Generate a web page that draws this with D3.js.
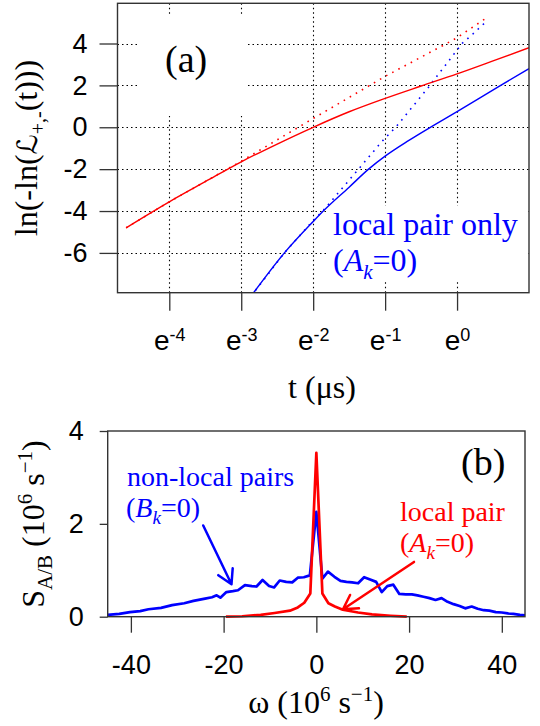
<!DOCTYPE html>
<html><head><meta charset="utf-8">
<script src="https://cdn.jsdelivr.net/npm/d3@7"></script>
<style>body{margin:0;background:#fff} svg{display:block}</style>
</head><body>
<script>
// ---------- Panel (a) data: x is ln(t), y is ln(-ln(L)) ----------
const aTickX = [-4, -3, -2, -1, 0];
const aTickY = [-6, -4, -2, 0, 2, 4];
const redSolidLnT = [-4.60, -4.0, -3.5, -3.0, -2.5, -2.0, -1.5, -1.0, -0.5, 0.0, 0.5, 1.0];
const redSolidVal = [-4.80, -3.56, -2.60, -1.65, -0.80, 0.0, 0.74, 1.38, 1.97, 2.55, 3.17, 3.80];
const redDotLnT = [-4.60, -4.0, -3.0, -2.0, -1.0, -0.145, 0.0, 0.39];
const redDotVal = [-4.80, -3.56, -1.62, 0.42, 2.43, 4.0, 4.28, 5.18];
const blueSolidLnT = [-2.86, -2.4, -2.0, -1.86, -1.5, -1.23, -1.0, -0.675, -0.355, 0.0, 0.595, 1.0];
const blueSolidVal = [-8.05, -6.0, -4.5, -4.0, -2.86, -2.0, -1.38, -0.64, 0.03, 0.75, 1.98, 2.80];
const blueDotLnT = [-2.86, -2.4, -2.0, -1.866, -1.37, -1.05, -0.84, -0.40, 0.07, 0.225, 0.39];
const blueDotVal = [-8.05, -6.0, -4.45, -4.0, -2.0, -0.7, 0.05, 1.9, 4.0, 4.47, 5.0];

// ---------- Panel (b) data ----------
const bTickX = [-40, -20, 0, 20, 40];
const bTickY = [0, 2, 4];
const nonLocalOmega = [-45, -42.5, -40.2, -38, -36.2, -33.5, -31.1, -28.5, -26.5, -24, -22.5, -21.5, -20.7, -19.4, -18, -16.9, -15.4, -13.9, -12.9, -11.6, -10.2, -9.1, -7.9, -6.5, -5.2, -4.0, -2.7, -1.4, 0, 1.3, 2.5, 3.9, 5.2, 6.5, 7.7, 9.0, 10.3, 11.6, 12.9, 14.1, 15.3, 16.6, 17.9, 19.3, 20.6, 21.8, 23.1, 24.4, 25.7, 27.0, 28.3, 29.6, 30.9, 32.1, 33.5, 34.8, 36.1, 37.3, 38.7, 40.0, 41.3, 42.5, 43.9, 45];
const nonLocalS = [0.04, 0.06, 0.10, 0.12, 0.16, 0.19, 0.25, 0.29, 0.34, 0.39, 0.42, 0.46, 0.41, 0.53, 0.55, 0.57, 0.68, 0.66, 0.65, 0.79, 0.66, 0.63, 0.78, 0.75, 0.74, 0.84, 0.85, 0.89, 2.26, 0.82, 0.97, 0.86, 0.77, 0.75, 0.74, 0.72, 0.85, 0.80, 0.75, 0.53, 0.66, 0.69, 0.49, 0.48, 0.48, 0.46, 0.43, 0.40, 0.36, 0.40, 0.32, 0.27, 0.23, 0.18, 0.22, 0.17, 0.14, 0.13, 0.10, 0.09, 0.07, 0.06, 0.04, 0.03];
const localOmega = [-19.5, -16, -12, -9, -5.7, -4, -2.6, -1.3, 0, 1.3, 2.6, 4, 5.7, 9, 12, 16, 19.5];
const localS = [0.0, 0.01, 0.04, 0.08, 0.13, 0.2, 0.3, 0.5, 3.53, 0.5, 0.29, 0.22, 0.15, 0.09, 0.05, 0.02, 0.0];
// arrows (data units): [fromX, fromY, toX, toY]
const arrowNonLocal = [-24.4, 1.965, -18.3, 0.70];
const arrowLocal = [21.06, 1.18, 5.75, 0.159];

const W = 540, H = 726;
const sans = "'Liberation Sans', Arial, Helvetica, sans-serif";
const serif = "'Liberation Serif', 'Times New Roman', Times, serif";
const RED = "#ff0000", BLUE = "#0000ff";
const svg = d3.select("body").append("svg").attr("width", W).attr("height", H);

const zip = (a, b) => a.map((v, i) => [v, b[i]]);
const crisp = v => Math.round(v) + 0.5;

// ================= Panel (a) =================
const ax = d3.scaleLinear().domain([-4.72, 1.0]).range([117.5, 529]);
const ay = d3.scaleLinear().domain([-7.9, 5.92]).range([292.7, 3.3]);
const ga = svg.append("g");

// grid
ga.selectAll("line.gx").data(aTickX).join("line")
  .attr("x1", d => crisp(ax(d))).attr("x2", d => crisp(ax(d)))
  .attr("y1", ay.range()[1]).attr("y2", ay.range()[0])
  .attr("stroke", "#000").attr("stroke-width", 1.1).attr("stroke-dasharray", "1.5,3");
ga.selectAll("line.gy").data(aTickY).join("line")
  .attr("y1", d => crisp(ay(d))).attr("y2", d => crisp(ay(d)))
  .attr("x1", ax.range()[0]).attr("x2", ax.range()[1])
  .attr("stroke", "#000").attr("stroke-width", 1.1).attr("stroke-dasharray", "1.5,3");

// white label backgrounds
ga.append("rect").attr("x", 139).attr("y", 15).attr("width", 109).attr("height", 101).attr("fill", "#fff");
ga.append("rect").attr("x", 327).attr("y", 206).attr("width", 201).attr("height", 76).attr("fill", "#fff");

svg.append("clipPath").attr("id", "clipA").append("rect")
  .attr("x", 117.5).attr("y", 3.3).attr("width", 529 - 117.5).attr("height", 292.7 - 3.3);
const lineA = d3.line().x(d => ax(d[0])).y(d => ay(d[1]));
const curves = ga.append("g").attr("clip-path", "url(#clipA)");
curves.append("path").datum(zip(redDotLnT, redDotVal)).attr("d", lineA)
  .attr("fill", "none").attr("stroke", RED).attr("stroke-width", 1.6).attr("stroke-dasharray", "1.6,5.4");
curves.append("path").datum(zip(blueDotLnT, blueDotVal)).attr("d", lineA)
  .attr("fill", "none").attr("stroke", BLUE).attr("stroke-width", 1.6).attr("stroke-dasharray", "1.6,5.4");
curves.append("path").datum(zip(redSolidLnT, redSolidVal)).attr("d", lineA.curve(d3.curveMonotoneX))
  .attr("fill", "none").attr("stroke", RED).attr("stroke-width", 1.4);
curves.append("path").datum(zip(blueSolidLnT, blueSolidVal)).attr("d", lineA.curve(d3.curveMonotoneX))
  .attr("fill", "none").attr("stroke", BLUE).attr("stroke-width", 1.4);

// box
ga.append("rect").attr("x", 117.5).attr("y", 3.3).attr("width", 529 - 117.5).attr("height", 292.7 - 3.3)
  .attr("fill", "none").attr("stroke", "#333").attr("stroke-width", 1.4);

// axes
const yAxA = ga.append("g").attr("transform", `translate(117.5,0)`)
  .call(d3.axisLeft(ay).tickValues(aTickY).tickSize(18).tickPadding(12).tickFormat(d3.format("d")));
yAxA.select(".domain").remove();
yAxA.selectAll(".tick line").attr("stroke", "#333").attr("stroke-width", 1.3);
yAxA.selectAll(".tick text").attr("font-family", sans).attr("font-size", 27).attr("fill", "#000")
  .text(d => String(d));

const xAxA = ga.append("g").attr("transform", `translate(0,292.7)`)
  .call(d3.axisBottom(ax).tickValues(aTickX).tickSize(18).tickFormat(() => ""));
xAxA.select(".domain").remove();
xAxA.selectAll(".tick line").attr("stroke", "#333").attr("stroke-width", 1.3);
xAxA.selectAll(".tick text").each(function(d) {
  const t = d3.select(this).attr("y", 57.3).attr("dy", 0)
    .attr("font-family", sans).attr("font-size", 28).attr("fill", "#000").attr("text-anchor", "middle");
  t.text(null);
  t.append("tspan").text("e");
  t.append("tspan").attr("dy", -9).attr("font-size", 18).text(String(d));
});

// labels
ga.append("text").attr("x", 165).attr("y", 72).attr("font-family", serif).attr("font-size", 38).text("(a)");
ga.append("text").attr("x", 333).attr("y", 235).attr("font-family", serif).attr("font-size", 32)
  .attr("fill", BLUE).text("local pair only");
const ak = ga.append("text").attr("x", 333).attr("y", 271).attr("font-family", serif).attr("font-size", 32).attr("fill", BLUE);
ak.append("tspan").text("(");
ak.append("tspan").attr("font-style", "italic").text("A");
ak.append("tspan").attr("font-style", "italic").attr("font-size", 21).attr("dy", 8).text("k");
ak.append("tspan").attr("dy", -8).text("=0)");

svg.append("text").attr("x", 322).attr("y", 398).attr("text-anchor", "middle")
  .attr("font-family", serif).attr("font-size", 32).text("t (\u03bcs)");

const yla = svg.append("text").attr("transform", "translate(37,148) rotate(-90)")
  .attr("text-anchor", "middle").attr("font-family", serif).attr("font-size", 32);
yla.append("tspan").text("ln(-ln(");
yla.append("tspan").attr("font-family", "'DejaVu Serif','DejaVu Sans',serif").attr("font-style", "italic").attr("font-size", 28).text("\u2112");
yla.append("tspan").attr("font-size", 20).attr("dy", 8).text("+,-");
yla.append("tspan").attr("dy", -8).text("(t)))");

// ================= Panel (b) =================
const bx = d3.scaleLinear().domain([-45, 45]).range([107.7, 525]);
const by = d3.scaleLinear().domain([0, 4]).range([616.7, 431]);
const gb = svg.append("g");

const lineB = d3.line().x(d => bx(d[0])).y(d => by(d[1]));
gb.append("path").datum(zip(nonLocalOmega, nonLocalS)).attr("d", lineB)
  .attr("fill", "none").attr("stroke", BLUE).attr("stroke-width", 2.7).attr("stroke-linejoin", "round");
gb.append("path").datum(zip(localOmega, localS)).attr("d", lineB)
  .attr("fill", "none").attr("stroke", RED).attr("stroke-width", 2.7).attr("stroke-linejoin", "round");

gb.append("rect").attr("x", 107.7).attr("y", 431).attr("width", 525 - 107.7).attr("height", 616.7 - 431)
  .attr("fill", "none").attr("stroke", "#333").attr("stroke-width", 1.4);

const yAxB = gb.append("g").attr("transform", `translate(107.7,0)`)
  .call(d3.axisLeft(by).tickValues(bTickY).tickSize(8).tickPadding(16).tickFormat(d3.format("d")));
yAxB.select(".domain").remove();
yAxB.selectAll(".tick line").attr("stroke", "#333").attr("stroke-width", 1.3);
yAxB.selectAll(".tick text").attr("font-family", sans).attr("font-size", 27).attr("fill", "#000");

const xAxB = gb.append("g").attr("transform", `translate(0,616.7)`)
  .call(d3.axisBottom(bx).tickValues(bTickX).tickSize(16).tickFormat(d => String(d)));
xAxB.select(".domain").remove();
xAxB.selectAll(".tick line").attr("stroke", "#333").attr("stroke-width", 1.3);
xAxB.selectAll(".tick text").attr("y", 57.3).attr("dy", 0)
  .attr("font-family", sans).attr("font-size", 27).attr("fill", "#000");

// arrows
function arrow(a, color) {
  const x1 = bx(a[0]), y1 = by(a[1]), x2 = bx(a[2]), y2 = by(a[3]);
  const ang = Math.atan2(y1 - y2, x1 - x2), L = 16, h = Math.PI / 6;
  const p = d3.path();
  p.moveTo(x1, y1); p.lineTo(x2, y2);
  p.moveTo(x2 + L * Math.cos(ang - h), y2 + L * Math.sin(ang - h));
  p.lineTo(x2, y2);
  p.lineTo(x2 + L * Math.cos(ang + h), y2 + L * Math.sin(ang + h));
  gb.append("path").attr("d", p.toString()).attr("fill", "none").attr("stroke", color)
    .attr("stroke-width", 2.5).attr("stroke-linecap", "round").attr("stroke-linejoin", "round");
}
arrow(arrowNonLocal, BLUE);
arrow(arrowLocal, RED);

gb.append("text").attr("x", 127).attr("y", 486).attr("font-family", serif).attr("font-size", 28)
  .attr("fill", BLUE).text("non-local pairs");
const bk = gb.append("text").attr("x", 126).attr("y", 517).attr("font-family", serif).attr("font-size", 28).attr("fill", BLUE);
bk.append("tspan").text("(");
bk.append("tspan").attr("font-style", "italic").text("B");
bk.append("tspan").attr("font-style", "italic").attr("font-size", 19).attr("dy", 7).text("k");
bk.append("tspan").attr("dy", -7).text("=0)");
gb.append("text").attr("x", 400).attr("y", 521).attr("font-family", serif).attr("font-size", 28)
  .attr("fill", RED).text("local pair");
const ak2 = gb.append("text").attr("x", 400).attr("y", 552).attr("font-family", serif).attr("font-size", 28).attr("fill", RED);
ak2.append("tspan").text("(");
ak2.append("tspan").attr("font-style", "italic").text("A");
ak2.append("tspan").attr("font-style", "italic").attr("font-size", 19).attr("dy", 7).text("k");
ak2.append("tspan").attr("dy", -7).text("=0)");
gb.append("text").attr("x", 461).attr("y", 475).attr("font-family", serif).attr("font-size", 38).text("(b)");

const xlb = svg.append("text").attr("x", 316).attr("y", 713).attr("text-anchor", "middle")
  .attr("font-family", serif).attr("font-size", 32);
xlb.append("tspan").text("\u03c9 (10");
xlb.append("tspan").attr("font-size", 21).attr("dy", -12).text("6");
xlb.append("tspan").attr("dy", 12).text(" s");
xlb.append("tspan").attr("font-size", 21).attr("dy", -12).text("\u22121");
xlb.append("tspan").attr("dy", 12).text(")");

const ylb = svg.append("text").attr("transform", "translate(44,524) rotate(-90)")
  .attr("text-anchor", "middle").attr("font-family", serif).attr("font-size", 32);
ylb.append("tspan").text("S");
ylb.append("tspan").attr("font-size", 21).attr("dy", 8).text("A/B");
ylb.append("tspan").attr("dy", -8).text(" (10");
ylb.append("tspan").attr("font-size", 21).attr("dy", -12).text("6");
ylb.append("tspan").attr("dy", 12).text(" s");
ylb.append("tspan").attr("font-size", 21).attr("dy", -12).text("\u22121");
ylb.append("tspan").attr("dy", 12).text(")");
</script>
</body></html>
